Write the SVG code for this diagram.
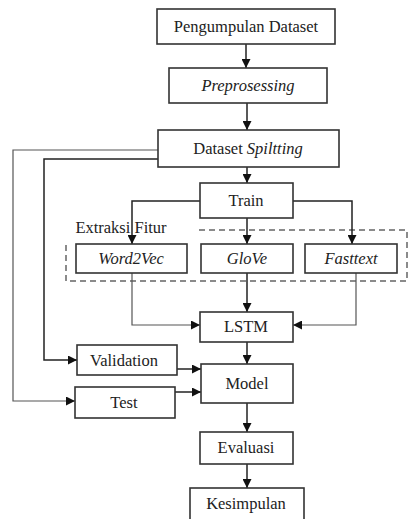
<svg xmlns="http://www.w3.org/2000/svg" width="409" height="519" viewBox="0 0 409 519">
<style>
.box{fill:#fff;stroke:#333;stroke-width:1.6}
.t{font-family:'Liberation Serif','Times New Roman',Times,'DejaVu Serif',serif;font-size:16.5px;fill:#222;text-anchor:middle}
.i{font-style:italic}
.c{fill:none;stroke:#222;stroke-width:1.5}
.cl{fill:none;stroke:#555;stroke-width:1.2}
.d{fill:none;stroke:#666;stroke-width:1.5;stroke-dasharray:6 4}
</style>
<defs>
<marker id="ah" viewBox="0 0 10 10" refX="10" refY="5" markerWidth="9" markerHeight="9" markerUnits="userSpaceOnUse" orient="auto">
<path d="M0,0 L10,5 L0,10 z" fill="#111"/>
</marker>
</defs>
<rect width="409" height="519" fill="#fff"/>
<g id="extraksi">
<path class="d" d="M199,230 H407 V281 H66 V243"/>
<text class="t" x="121" y="233">Extraksi Fitur</text>
</g>
<g id="connectors">
<path class="c" d="M246,44 V68" marker-end="url(#ah)"/>
<path class="c" d="M247,103 V130" marker-end="url(#ah)"/>
<path class="c" d="M247,167 V183" marker-end="url(#ah)"/>
<path class="cl" d="M158,150 H13 V401 H75" marker-end="url(#ah)"/>
<path class="c" d="M158,159 H44 V360 H77" marker-end="url(#ah)"/>
<path class="c" d="M200,201 H132 V244" marker-end="url(#ah)"/>
<path class="c" d="M247,218 V244" marker-end="url(#ah)"/>
<path class="c" d="M293,201 H352 V244" marker-end="url(#ah)"/>
<path class="cl" d="M132,273 V325 H200" marker-end="url(#ah)"/>
<path class="c" d="M247,273 V312" marker-end="url(#ah)"/>
<path class="cl" d="M356,273 V325 H293" marker-end="url(#ah)"/>
<path class="c" d="M247,342 V364" marker-end="url(#ah)"/>
<path class="c" d="M177,369 H201" marker-end="url(#ah)"/>
<path class="c" d="M175,392 H201" marker-end="url(#ah)"/>
<path class="c" d="M247,403 V432" marker-end="url(#ah)"/>
<path class="c" d="M247,464 V488" marker-end="url(#ah)"/>
</g>
<g id="pengumpulan"><rect class="box" x="157" y="9" width="178" height="35"/><text class="t" x="246" y="32">Pengumpulan Dataset</text></g>
<g id="preprosessing"><rect class="box" x="169" y="68" width="158" height="35"/><text class="t i" x="248" y="91">Preprosessing</text></g>
<g id="splitting"><rect class="box" x="158" y="130" width="181" height="37"/><text class="t" x="248" y="154">Dataset <tspan class="i">Spiltting</tspan></text></g>
<g id="train"><rect class="box" x="200" y="183" width="93" height="35"/><text class="t" x="246" y="206">Train</text></g>
<g id="word2vec"><rect class="box" x="76" y="244" width="111" height="29"/><text class="t i" x="131" y="264">Word2Vec</text></g>
<g id="glove"><rect class="box" x="201" y="244" width="92" height="29"/><text class="t i" x="247" y="264">GloVe</text></g>
<g id="fasttext"><rect class="box" x="305" y="244" width="92" height="29"/><text class="t i" x="351" y="264">Fasttext</text></g>
<g id="lstm"><rect class="box" x="200" y="312" width="93" height="30"/><text class="t" x="246" y="332">LSTM</text></g>
<g id="validation"><rect class="box" x="77" y="345" width="100" height="30"/><text class="t" x="124" y="366">Validation</text></g>
<g id="test"><rect class="box" x="75" y="387" width="100" height="31"/><text class="t" x="124" y="408">Test</text></g>
<g id="model"><rect class="box" x="201" y="364" width="92" height="39"/><text class="t" x="247" y="389">Model</text></g>
<g id="evaluasi"><rect class="box" x="200" y="432" width="93" height="32"/><text class="t" x="246" y="453">Evaluasi</text></g>
<g id="kesimpulan"><rect class="box" x="190" y="488" width="114" height="40"/><text class="t" x="246" y="509">Kesimpulan</text></g>
</svg>
